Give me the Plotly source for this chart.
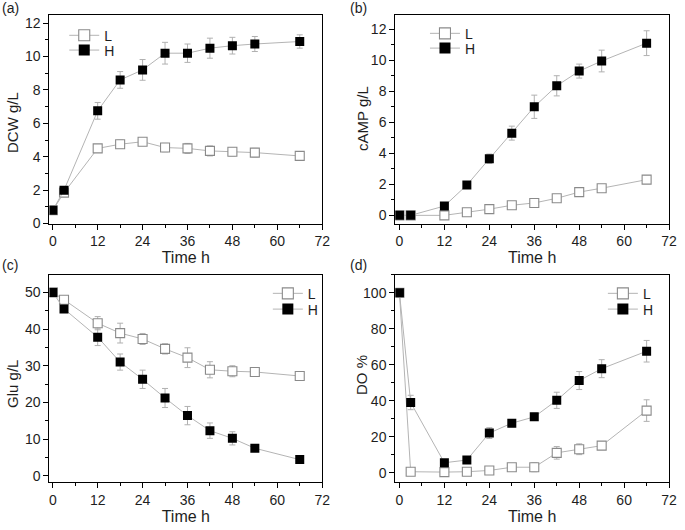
import plotly.graph_objects as go

time = [0, 3, 12, 18, 24, 30, 36, 42, 48, 54, 66]

dcw_L = [0.8, 1.85, 4.5, 4.75, 4.9, 4.55, 4.5, 4.35, 4.3, 4.25, 4.05]
dcw_L_err = [0.1, 0.15, 0.2, 0.25, 0.2, 0.25, 0.3, 0.3, 0.25, 0.25, 0.25]
dcw_H = [0.8, 2.0, 6.75, 8.6, 9.2, 10.2, 10.2, 10.5, 10.65, 10.75, 10.9]
dcw_H_err = [0.1, 0.15, 0.5, 0.5, 0.62, 0.65, 0.55, 0.6, 0.5, 0.45, 0.4]

camp_L = [0, 0, 0, 0.2, 0.4, 0.65, 0.8, 1.1, 1.5, 1.75, 2.3]
camp_L_err = [0.05, 0.05, 0.05, 0.15, 0.15, 0.15, 0.15, 0.2, 0.25, 0.2, 0.25]
camp_H = [0, 0, 0.6, 1.95, 3.65, 5.3, 7.0, 8.35, 9.3, 9.95, 11.1]
camp_H_err = [0.05, 0.05, 0.1, 0.2, 0.3, 0.45, 0.75, 0.65, 0.45, 0.7, 0.8]

glu_L = [50, 48, 41.6, 38.9, 37.3, 34.6, 32.2, 28.9, 28.5, 28.3, 27.2]
glu_L_err = [0.5, 0.8, 1.8, 2.7, 1.5, 1.4, 2.7, 2.2, 1.5, 0.8, 1.0]
glu_H = [50, 45.5, 37.8, 31.0, 26.3, 21.2, 16.4, 12.3, 10.2, 7.5, 4.4]
glu_H_err = [0.5, 1.0, 2.3, 2.2, 2.5, 2.6, 2.5, 2.1, 1.8, 0.5, 0.5]

do_L = [100, 0.5, 0.3, 0.5, 1.2, 3, 3, 11, 13, 15, 34.5]
do_L_err = [0.5, 1, 0.5, 1, 1, 1, 2.5, 3.5, 3, 2, 6]
do_H = [100, 39, 5.5, 7, 22, 27.5, 31, 40.2, 51.2, 57.8, 67.5]
do_H_err = [0.5, 4, 1.5, 1.5, 3, 2, 2, 4.5, 5, 5, 6]

x_ticks = [0, 12, 24, 36, 48, 60, 72]
x_minor = [6, 18, 30, 42, 54, 66]
series_names = ["L", "H"]

panels = [
    ("(a)", "DCW g/L", dcw_L, dcw_L_err, dcw_H, dcw_H_err, [0, 12.5], 2, 1),
    ("(b)", "cAMP g/L", camp_L, camp_L_err, camp_H, camp_H_err, [-0.53, 12.93], 2, 1),
    ("(c)", "Glu g/L", glu_L, glu_L_err, glu_H, glu_H_err, [-1.6, 54.8], 10, 5),
    ("(d)", "DO %", do_L, do_L_err, do_H, do_H_err, [-5, 110], 20, 10),
]

W, H = 685, 530
# pixel boxes (left, right, top, bottom)
boxes = [(50, 326, 15, 227), (400, 677, 15, 227), (50, 326, 279, 489), (400, 677, 279, 489)]
xranges = [[-0.9, 72], [-1.1, 72], [-0.9, 72], [-1.1, 72]]
# legend (left x, top of L entry, top of H entry) in pixels
legend_pos = [(65, 20, 35), (430, 18, 33), (271, 282, 298), (610, 282, 298)]
label_pos = [(0, 8), (352, 8), (0, 269), (352, 269)]
ytitle_pos = [(12, 124), (366, 120), (12, 390), (366, 381)]

FONT = "Arial, Liberation Sans, sans-serif"
TXT = "#1e1e1e"
LINE_COL = "#b4b4b4"
ERR_COL = "#b0b0b0"
L_EDGE = "#8a8a8a"


def marker_style(k, size):
    if k == 0:
        return dict(symbol="square", size=size, color="white", line=dict(color=L_EDGE, width=1.1))
    return dict(symbol="square", size=size, color="black", line=dict(color="black", width=0))


fig = go.Figure()
layout = {}
annotations = []
for i, (lab, ytitle, L, Le, Hh, He, yr, dt, mdt) in enumerate(panels):
    n = "" if i == 0 else str(i + 1)
    xa, ya = "x" + n, "y" + n
    l, r, t, b = boxes[i]
    lx, lyL, lyH = legend_pos[i]
    for k, (vals, errs, ly) in enumerate(((L, Le, lyL), (Hh, He, lyH))):
        idx = 2 * i + k + 1
        lg = "legend" if idx == 1 else "legend" + str(idx)
        # data trace
        fig.add_trace(go.Scatter(
            x=time, y=vals, name=series_names[k], mode="lines+markers",
            xaxis=xa, yaxis=ya, showlegend=False,
            line=dict(color=LINE_COL, width=1),
            marker=marker_style(k, 9),
            error_y=dict(type="data", array=errs, color=ERR_COL, thickness=1, width=3),
        ))
        # legend entry (no data drawn)
        fig.add_trace(go.Scatter(
            x=[None], y=[None], name=series_names[k], mode="lines+markers",
            xaxis=xa, yaxis=ya, legend=lg, showlegend=True,
            line=dict(color=LINE_COL, width=1),
            marker=marker_style(k, 11),
        ))
        layout[lg] = dict(
            x=lx / W, y=1 - ly / H, xanchor="left", yanchor="top",
            bgcolor="rgba(0,0,0,0)", borderwidth=0,
            font=dict(size=14, color=TXT, family=FONT),
            itemwidth=30, visible=True,
        )
    layout["xaxis" + n] = dict(
        domain=[l / W, r / W], anchor=ya, range=xranges[i],
        tickmode="array", tickvals=x_ticks,
        ticks="outside", ticklen=5, tickwidth=1, tickcolor="black",
        minor=dict(ticks="outside", tickvals=x_minor, ticklen=3, tickcolor="black"),
        showline=True, linecolor="black", linewidth=1.2, mirror=True,
        showgrid=False, zeroline=False,
        tickfont=dict(size=14, color=TXT, family=FONT),
        title=dict(text="Time h", font=dict(size=16, color=TXT, family=FONT), standoff=3),
    )
    layout["yaxis" + n] = dict(
        domain=[1 - b / H, 1 - t / H], anchor=xa, range=yr,
        dtick=dt, tick0=0,
        ticks="outside", ticklen=5, tickwidth=1, tickcolor="black",
        minor=dict(ticks="outside", dtick=mdt, ticklen=3, tickcolor="black"),
        showline=True, linecolor="black", linewidth=1.2, mirror=True,
        showgrid=False, zeroline=False,
        tickfont=dict(size=14, color=TXT, family=FONT),
    )
    ax_, ay_ = label_pos[i]
    annotations.append(dict(
        text=lab, x=ax_ / W, y=1 - ay_ / H,
        xref="paper", yref="paper", xanchor="left", yanchor="middle",
        showarrow=False, font=dict(size=14, color=TXT, family=FONT),
    ))
    tx, ty = ytitle_pos[i]
    annotations.append(dict(
        text=ytitle, x=tx / W, y=1 - ty / H, textangle=-90,
        xref="paper", yref="paper", xanchor="center", yanchor="middle",
        showarrow=False, font=dict(size=15, color=TXT, family=FONT),
    ))

fig.update_layout(
    width=W, height=H, margin=dict(l=0, r=0, t=0, b=0),
    paper_bgcolor="white", plot_bgcolor="white", showlegend=True,
    annotations=annotations, **layout,
)
fig.write_html("out.html", config={"displayModeBar": False},
               post_script="document.body.style.margin='0';")
